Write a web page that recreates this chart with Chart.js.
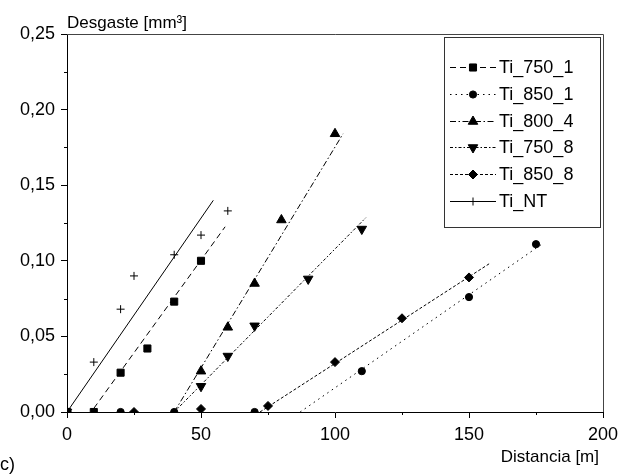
<!DOCTYPE html>
<html>
<head>
<meta charset="utf-8">
<script src="https://cdn.jsdelivr.net/npm/chart.js@4/dist/chart.umd.min.js"></script>
<style>
  html, body { margin: 0; padding: 0; background: #fff; }
  #wrap { position: relative; width: 635px; height: 474px; }
</style>
</head>
<body>
<div id="wrap"><canvas id="chart" width="635" height="474"></canvas></div>
<script>
// Datos: desgaste [mm3] frente a distancia [m]
const seriesNames = ['Ti_750_1', 'Ti_850_1', 'Ti_800_4', 'Ti_750_8', 'Ti_850_8', 'Ti_NT'];

const dist750_1 = [0, 10, 20, 30, 40, 50];
const wear750_1 = [0, 0, 0.026, 0.042, 0.073, 0.100];
const dist850_1 = [0, 20, 40, 70, 110, 150, 175];
const wear850_1 = [0, 0, 0, 0, 0.027, 0.076, 0.111];
const dist800_4 = [0, 50, 60, 70, 80, 100];
const wear800_4 = [0, 0.027, 0.056, 0.085, 0.127, 0.184];
const dist750_8 = [0, 50, 60, 70, 90, 110];
const wear750_8 = [0, 0.017, 0.037, 0.057, 0.088, 0.121];
const dist850_8 = [0, 25, 50, 75, 100, 125, 150];
const wear850_8 = [0, 0, 0.002, 0.004, 0.033, 0.062, 0.089];
const distNT = [0, 10, 20, 25, 40, 50, 60];
const wearNT = [0, 0.033, 0.068, 0.090, 0.104, 0.117, 0.133];

// rectas de ajuste (extremos)
const fitX750_1 = [10, 59];
const fitY750_1 = [0.0024, 0.1225];
const fitX850_1 = [87, 178];
const fitY850_1 = [0, 0.112];
const fitX800_4 = [40, 103];
const fitY800_4 = [0, 0.184];
const fitX750_8 = [40, 111.5];
const fitY750_8 = [0, 0.1285];
const fitX850_8 = [72, 157.5];
const fitY850_8 = [0, 0.098];
const fitXNT = [0, 54.6];
const fitYNT = [0, 0.140];

const xTicks = [0, 50, 100, 150, 200];
const yTicks = [0, 0.05, 0.10, 0.15, 0.20, 0.25];
const xMinor = [25, 75, 125, 175];
const yMinor = [0.025, 0.075, 0.125, 0.175, 0.225];

const FONT = 'Liberation Sans, Arial, sans-serif';

const pts = (xs, ys) => xs.map((x, i) => ({ x, y: ys[i] }));

const markerSets = [
  { data: pts(dist750_1, wear750_1), pointStyle: 'rect', pointRadius: 5, rotation: 0 },
  { data: pts(dist850_1, wear850_1), pointStyle: 'circle', pointRadius: 3.6, rotation: 0 },
  { data: pts(dist800_4, wear800_4), pointStyle: 'triangle', pointRadius: 5.5, rotation: 0 },
  { data: pts(dist750_8, wear750_8), pointStyle: 'triangle', pointRadius: 5.5, rotation: 180 },
  { data: pts(dist850_8, wear850_8), pointStyle: 'rectRot', pointRadius: 4.5, rotation: 0 },
  { data: pts(distNT, wearNT), pointStyle: 'cross', pointRadius: 4, rotation: 0 }
];

const fitSets = [
  { data: pts(fitX750_1, fitY750_1), borderDash: [6, 4] },
  { data: pts(fitX850_1, fitY850_1), borderDash: [1.5, 4] },
  { data: pts(fitX800_4, fitY800_4), borderDash: [6, 2.5, 1.5, 2.5] },
  { data: pts(fitX750_8, fitY750_8), borderDash: [3, 2, 1.5, 2] },
  { data: pts(fitX850_8, fitY850_8), borderDash: [3, 2] },
  { data: pts(fitXNT, fitYNT), borderDash: [] }
];

const datasets = [];
markerSets.forEach((m, i) => {
  datasets.push({
    label: seriesNames[i],
    data: m.data,
    showLine: false,
    pointStyle: m.pointStyle,
    pointRadius: m.pointRadius,
    rotation: m.rotation,
    pointBackgroundColor: '#000',
    pointBorderColor: '#000',
    pointBorderWidth: 1
  });
});
fitSets.forEach((f, i) => {
  datasets.push({
    label: seriesNames[i] + ' ajuste',
    data: f.data,
    showLine: true,
    pointRadius: 0,
    borderColor: '#000',
    borderWidth: 1,
    borderDash: f.borderDash,
    fill: false
  });
});

const frameAndLegend = {
  id: 'frameAndLegend',
  afterDraw(chart) {
    const ctx = chart.ctx;
    const a = chart.chartArea;
    const xs = chart.scales.x, ys = chart.scales.y;
    ctx.save();

    // marco superior y derecho
    ctx.strokeStyle = '#444';
    ctx.lineWidth = 1;
    ctx.beginPath();
    ctx.moveTo(a.left, a.top + 0.5);
    ctx.lineTo(a.right + 0.5, a.top + 0.5);
    ctx.lineTo(a.right + 0.5, a.bottom);
    ctx.stroke();

    // ticks menores
    ctx.strokeStyle = '#000';
    xMinor.forEach(v => {
      const px = Math.round(xs.getPixelForValue(v)) + 0.5;
      ctx.beginPath(); ctx.moveTo(px, a.bottom); ctx.lineTo(px, a.bottom + 3); ctx.stroke();
    });
    yMinor.forEach(v => {
      const py = Math.round(ys.getPixelForValue(v)) + 0.5;
      ctx.beginPath(); ctx.moveTo(a.left, py); ctx.lineTo(a.left - 3, py); ctx.stroke();
    });

    // leyenda
    ctx.strokeStyle = '#333';
    ctx.strokeRect(444.5, 37.5, 156, 190);
    ctx.font = '18px ' + FONT;
    ctx.textBaseline = 'middle';
    ctx.textAlign = 'left';
    seriesNames.forEach((name, i) => {
      const m = chart.data.datasets[i];
      const f = chart.data.datasets[i + seriesNames.length];
      const y = Math.round(67 + i * 26.8) + 0.5;
      ctx.strokeStyle = '#000';
      ctx.fillStyle = '#000';
      ctx.lineWidth = 1;
      ctx.setLineDash(f.borderDash);
      ctx.beginPath(); ctx.moveTo(450, y); ctx.lineTo(496, y); ctx.stroke();
      ctx.setLineDash([]);
      Chart.helpers.drawPoint(ctx, {
        pointStyle: m.pointStyle, rotation: m.rotation,
        radius: m.pointRadius, borderWidth: 1
      }, 473, y);
      ctx.fillText(name, 499, y + 1);
    });

    // títulos
    ctx.fillStyle = '#000';
    ctx.textBaseline = 'alphabetic';
    ctx.textAlign = 'left';
    ctx.font = '17px ' + FONT;
    ctx.fillText('Desgaste [mm³]', 67, 28);
    ctx.textAlign = 'right';
    ctx.fillText('Distancia [m]', 599, 462);
    ctx.textAlign = 'left';
    ctx.font = '18px ' + FONT;
    ctx.fillText('c)', 0, 470);
    ctx.restore();
  }
};

const axisCommon = {
  type: 'linear',
  grid: { drawOnChartArea: false, drawTicks: true, tickLength: 6, color: '#000' },
  border: { color: '#000', width: 1 },
  ticks: { color: '#000', font: { family: FONT, size: 18 } }
};

new Chart(document.getElementById('chart'), {
  type: 'scatter',
  data: { datasets },
  options: {
    responsive: false,
    animation: false,
    devicePixelRatio: 1,
    layout: { padding: { top: 34, right: 32, left: 0, bottom: 0 } },
    plugins: { legend: { display: false }, tooltip: { enabled: false } },
    scales: {
      x: {
        ...axisCommon,
        position: 'bottom',
        min: 0, max: 200,
        ticks: { ...axisCommon.ticks, padding: 6, maxRotation: 0 },
        afterBuildTicks: s => { s.ticks = xTicks.map(v => ({ value: v })); },
        afterFit: s => { s.height = 62; }
      },
      y: {
        ...axisCommon,
        position: 'left',
        min: 0, max: 0.25,
        ticks: {
          ...axisCommon.ticks, padding: 6,
          callback: v => v.toFixed(2).replace('.', ',')
        },
        afterBuildTicks: s => { s.ticks = yTicks.map(v => ({ value: v })); },
        afterFit: s => { s.width = 67; }
      }
    }
  },
  plugins: [frameAndLegend]
});
</script>
</body>
</html>
